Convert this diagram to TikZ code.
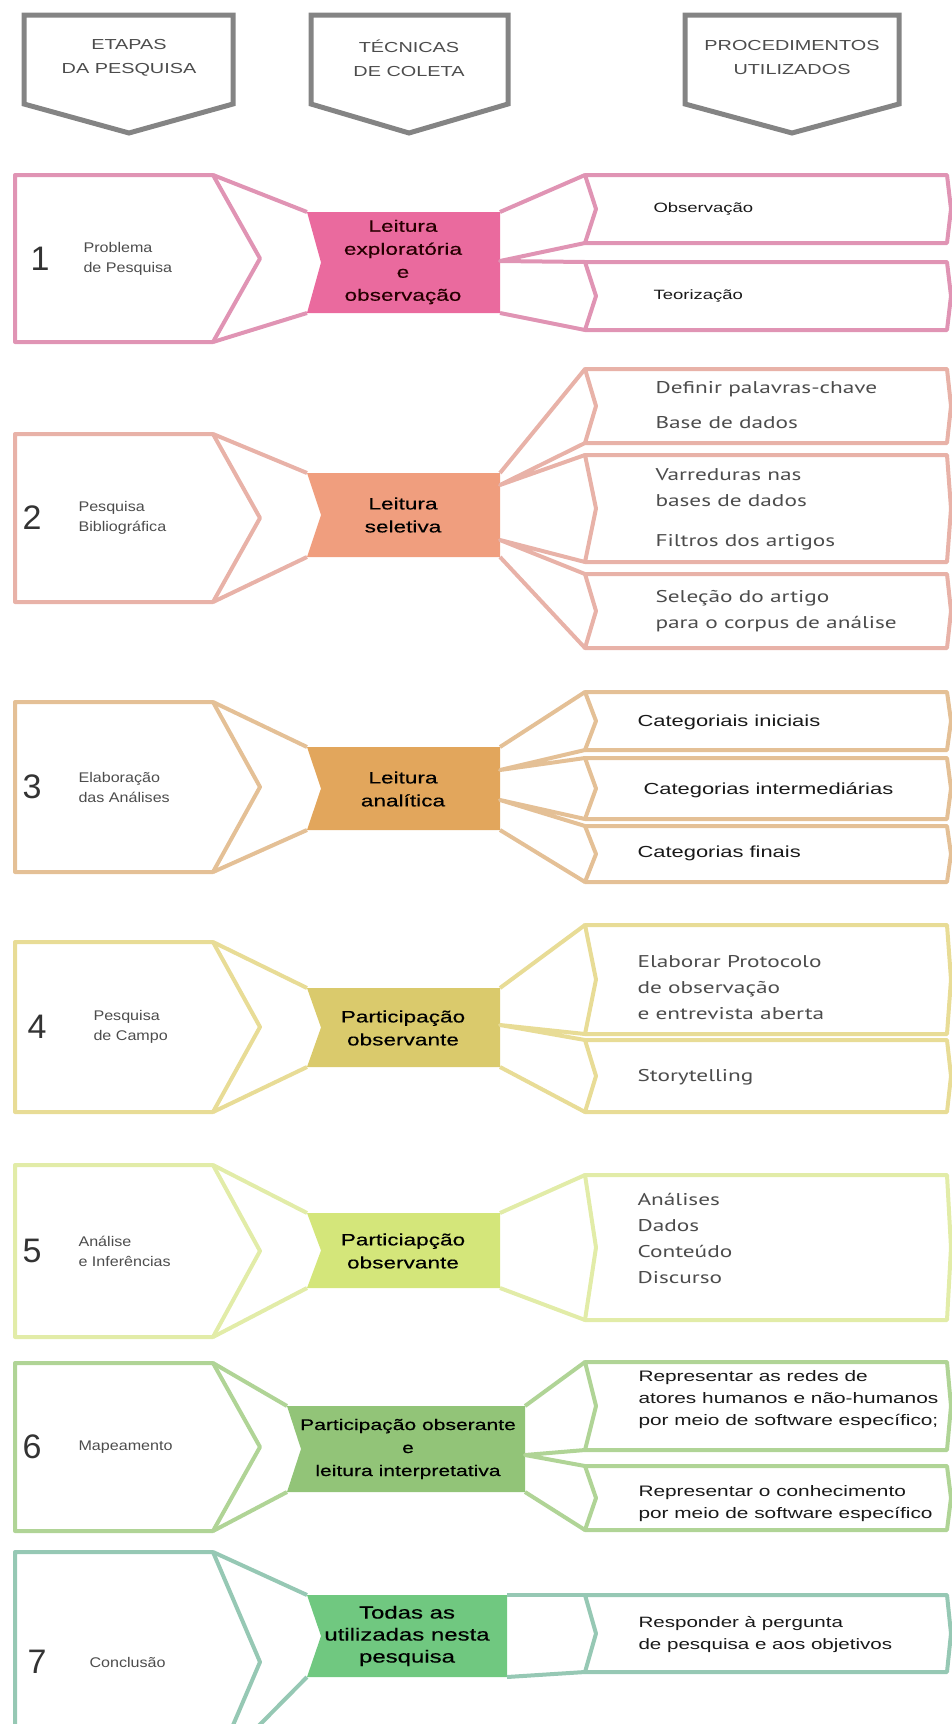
\documentclass[tikz,border=0pt]{standalone}
\usepackage{fontspec}
\newfontfamily\arialw{Liberation Sans}[FakeStretch=1.37]
\newfontfamily\arialm{Liberation Sans}[FakeStretch=1.15]
\newfontfamily\arialb{Liberation Sans}[FakeStretch=1.37, FakeBold=0.4]
\newfontfamily\myriadw{PT Sans}[FakeStretch=1.37]
\newfontfamily\arialn{Liberation Sans}
\usepackage{tikz}
\usetikzlibrary{calc}

\definecolor{cinzaLinha}{RGB}{132,132,132}
\definecolor{rosaLinha}{RGB}{224,148,180}
\definecolor{rosaFundo}{RGB}{234,106,158}
\definecolor{salmaoLinha}{RGB}{232,178,168}
\definecolor{salmaoFundo}{RGB}{240,158,126}
\definecolor{ocreLinha}{RGB}{228,192,150}
\definecolor{ocreFundo}{RGB}{226,166,92}
\definecolor{mostardaLinha}{RGB}{232,220,150}
\definecolor{mostardaFundo}{RGB}{218,202,108}
\definecolor{limaLinha}{RGB}{226,236,168}
\definecolor{limaFundo}{RGB}{212,230,122}
\definecolor{verdeLinha}{RGB}{176,212,150}
\definecolor{verdeFundo}{RGB}{146,196,120}
\definecolor{tealLinha}{RGB}{150,200,180}
\definecolor{tealFundo}{RGB}{112,200,128}

% etapa: name, colour, top, bottom
\newcommand{\etapabox}[4]{%
  \coordinate (#1-nw) at (15,#3);
  \coordinate (#1-ne) at (213,#3);
  \coordinate (#1-tip) at (260,{(#3+#4)/2});
  \coordinate (#1-se) at (213,#4);
  \coordinate (#1-sw) at (15,#4);
  \draw[outline=#2] (#1-nw) -- (#1-ne) -- (#1-tip) -- (#1-se) -- (#1-sw) -- cycle;}
% tecnica: name, colour, left, right, top, bottom
\newcommand{\tecnicabox}[6]{%
  \coordinate (#1-nw) at (#3,#5);
  \coordinate (#1-ne) at (#4,#5);
  \coordinate (#1-se) at (#4,#6);
  \coordinate (#1-sw) at (#3,#6);
  \fill[#2] (#1-nw) -- (#1-ne) -- (#1-se) -- (#1-sw) -- (#3+14,{(#5+#6)/2}) -- cycle;}
% procedimento: name, colour, top, bottom
\newcommand{\procbox}[4]{%
  \coordinate (#1-nw) at (585,#3);
  \coordinate (#1-sw) at (585,#4);
  \draw[outline=#2] (#1-nw) -- (947,#3) -- (951,{(#3+#4)/2}) -- (947,#4)
    -- (#1-sw) -- (596,{(#3+#4)/2}) -- cycle;}

\begin{document}
\begin{tikzpicture}[x=1pt, y=-1pt,
    outline/.style={draw=#1, line width=4pt, line join=round},
    cabecalho/.style={font=\arialw\fontsize{14.5}{24}\selectfont, align=center, text=black!70},
    numero/.style={font=\arialn\fontsize{34}{34}\selectfont, text=black!80},
    etapa/.style={anchor=west, font=\arialm\fontsize{14}{20}\selectfont, align=left, text=black!70},
    tecnica/.style={font=\arialb\fontsize{16.5}{23}\selectfont, align=center, text=black},
    procA/.style={anchor=west, font=\arialw\fontsize{13.5}{22}\selectfont, align=left, text=black!90},
    procM/.style={anchor=west, font=\myriadw\fontsize{17}{26}\selectfont, align=left, text=black!70}
  ]
  \useasboundingbox (0,0) rectangle (952,1724);
  \clip (0,0) rectangle (952,1724);

  % cabecalhos
  \draw[outline=cinzaLinha, line width=5pt, line join=miter]
    (24,15) -- (233,15) -- (233,104) -- (129,133) -- (24,104) -- cycle;
  \draw[outline=cinzaLinha, line width=5pt, line join=miter]
    (311,15) -- (508,15) -- (508,104) -- (409,133) -- (311,104) -- cycle;
  \draw[outline=cinzaLinha, line width=5pt, line join=miter]
    (685,15) -- (899,15) -- (899,104) -- (792,133) -- (685,104) -- cycle;
  \node[cabecalho] (h1) at (129,58) {ETAPAS\\DA PESQUISA};
  \node[cabecalho] (h2) at (409,58) {TÉCNICAS\\DE COLETA};
  \node[cabecalho] (h3) at (792,58) {PROCEDIMENTOS\\UTILIZADOS};

  % 1
  \etapabox{e1}{rosaLinha}{175}{342}
  \tecnicabox{t1}{rosaFundo}{307}{500}{212}{313}
  \procbox{p1a}{rosaLinha}{175}{243}
  \procbox{p1b}{rosaLinha}{262}{330}
  \coordinate (t1-m) at (500,261);
  \draw[outline=rosaLinha] (e1-ne) -- (t1-nw);
  \draw[outline=rosaLinha] (e1-se) -- (t1-sw);
  \draw[outline=rosaLinha] (t1-ne) -- (p1a-nw);
  \draw[outline=rosaLinha] (p1a-sw) -- (t1-m) -- (p1b-nw);
  \draw[outline=rosaLinha] (t1-se) -- (p1b-sw);
  \node[numero] (n1) at (40,259) {1};
  \node[etapa] (l1) at (80,259) {Problema\\de Pesquisa};
  \node[tecnica, text=black!85!red] (x1) at (403,262) {Leitura\\exploratória\\e\\observação};
  \node[procA] (q1a) at (650,209) {Observação};
  \node[procA] (q1b) at (650,296) {Teorização};

  % 2
  \etapabox{e2}{salmaoLinha}{434}{602}
  \tecnicabox{t2}{salmaoFundo}{307}{500}{473}{557}
  \procbox{p2a}{salmaoLinha}{369}{443}
  \procbox{p2b}{salmaoLinha}{455}{562}
  \procbox{p2c}{salmaoLinha}{574}{648}
  \coordinate (t2-m1) at (500,485);
  \coordinate (t2-m2) at (500,540);
  \draw[outline=salmaoLinha] (e2-ne) -- (t2-nw);
  \draw[outline=salmaoLinha] (e2-se) -- (t2-sw);
  \draw[outline=salmaoLinha] (t2-ne) -- (p2a-nw);
  \draw[outline=salmaoLinha] (p2a-sw) -- (t2-m1) -- (p2b-nw);
  \draw[outline=salmaoLinha] (p2b-sw) -- (t2-m2) -- (p2c-nw);
  \draw[outline=salmaoLinha] (t2-se) -- (p2c-sw);
  \node[numero] (n2) at (32,518) {2};
  \node[etapa] (l2) at (75,518) {Pesquisa\\Bibliográfica};
  \node[tecnica] (x2) at (403,515) {Leitura\\seletiva};
  \node[procM] (q2a) at (652,405) {Definir palavras-chave\\[9pt]Base de dados};
  \node[procM] (q2b) at (652,509) {Varreduras nas\\bases de dados\\[14pt]Filtros dos artigos};
  \node[procM] (q2c) at (652,611) {Seleção do artigo\\para o corpus de análise};

  % 3
  \etapabox{e3}{ocreLinha}{702}{872}
  \tecnicabox{t3}{ocreFundo}{307}{500}{747}{830}
  \procbox{p3a}{ocreLinha}{692}{750}
  \procbox{p3b}{ocreLinha}{758}{819}
  \procbox{p3c}{ocreLinha}{826}{882}
  \coordinate (t3-m1) at (500,770);
  \coordinate (t3-m2) at (500,800);
  \draw[outline=ocreLinha] (e3-ne) -- (t3-nw);
  \draw[outline=ocreLinha] (e3-se) -- (t3-sw);
  \draw[outline=ocreLinha] (t3-ne) -- (p3a-nw);
  \draw[outline=ocreLinha] (p3a-sw) -- (t3-m1) -- (p3b-nw);
  \draw[outline=ocreLinha] (p3b-sw) -- (t3-m2) -- (p3c-nw);
  \draw[outline=ocreLinha] (t3-se) -- (p3c-sw);
  \node[numero] (n3) at (32,787) {3};
  \node[etapa] (l3) at (75,787) {Elaboração\\das Análises};
  \node[tecnica] (x3) at (403,789) {Leitura\\analítica};
  \node[procA, font=\arialw\fontsize{16}{22}\selectfont] (q3a) at (634,722) {Categoriais iniciais};
  \node[procA, font=\arialw\fontsize{16}{22}\selectfont] (q3b) at (640,790) {Categorias intermediárias};
  \node[procA, font=\arialw\fontsize{16}{22}\selectfont] (q3c) at (634,853) {Categorias finais};

  % 4
  \etapabox{e4}{mostardaLinha}{942}{1112}
  \tecnicabox{t4}{mostardaFundo}{307}{500}{988}{1067}
  \procbox{p4a}{mostardaLinha}{925}{1034}
  \procbox{p4b}{mostardaLinha}{1040}{1112}
  \coordinate (t4-m) at (500,1025);
  \draw[outline=mostardaLinha] (e4-ne) -- (t4-nw);
  \draw[outline=mostardaLinha] (e4-se) -- (t4-sw);
  \draw[outline=mostardaLinha] (t4-ne) -- (p4a-nw);
  \draw[outline=mostardaLinha] (p4a-sw) -- (t4-m) -- (p4b-nw);
  \draw[outline=mostardaLinha] (t4-se) -- (p4b-sw);
  \node[numero] (n4) at (37,1027) {4};
  \node[etapa] (l4) at (90,1027) {Pesquisa\\de Campo};
  \node[tecnica] (x4) at (403,1028) {Participação\\observante};
  \node[procM] (q4a) at (634,988) {Elaborar Protocolo\\de observação\\e entrevista aberta};
  \node[procM] (q4b) at (634,1077) {Storytelling};

  % 5
  \etapabox{e5}{limaLinha}{1165}{1337}
  \tecnicabox{t5}{limaFundo}{307}{500}{1213}{1288}
  \procbox{p5a}{limaLinha}{1175}{1320}
  \draw[outline=limaLinha] (e5-ne) -- (t5-nw);
  \draw[outline=limaLinha] (e5-se) -- (t5-sw);
  \draw[outline=limaLinha] (t5-ne) -- (p5a-nw);
  \draw[outline=limaLinha] (t5-se) -- (p5a-sw);
  \node[numero] (n5) at (32,1251) {5};
  \node[etapa] (l5) at (75,1251) {Análise\\e Inferências};
  \node[tecnica] (x5) at (403,1251) {Particiapção\\observante};
  \node[procM] (q5a) at (634,1238) {Análises\\Dados\\Conteúdo\\Discurso};

  % 6
  \etapabox{e6}{verdeLinha}{1363}{1531}
  \tecnicabox{t6}{verdeFundo}{287}{525}{1406}{1492}
  \procbox{p6a}{verdeLinha}{1362}{1450}
  \procbox{p6b}{verdeLinha}{1466}{1530}
  \coordinate (t6-m) at (525,1455);
  \draw[outline=verdeLinha] (e6-ne) -- (t6-nw);
  \draw[outline=verdeLinha] (e6-se) -- (t6-sw);
  \draw[outline=verdeLinha] (t6-ne) -- (p6a-nw);
  \draw[outline=verdeLinha] (p6a-sw) -- (t6-m) -- (p6b-nw);
  \draw[outline=verdeLinha] (t6-se) -- (p6b-sw);
  \node[numero] (n6) at (32,1447) {6};
  \node[etapa] (l6) at (75,1447) {Mapeamento};
  \node[tecnica, font=\arialb\fontsize{15.4}{23}\selectfont] (x6) at (408,1449)
    {Participação obserante\\e\\leitura interpretativa};
  \node[procA, font=\arialw\fontsize{15.2}{22}\selectfont] (q6a) at (635,1400)
    {Representar as redes de\\atores humanos e não-humanos\\por meio de software específico;};
  \node[procA, font=\arialw\fontsize{15.2}{22}\selectfont] (q6b) at (635,1504)
    {Representar o conhecimento\\por meio de software específico};

  % 7
  \etapabox{e7}{tealLinha}{1552}{1772}
  \tecnicabox{t7}{tealFundo}{307}{507}{1595}{1677}
  \procbox{p7a}{tealLinha}{1595}{1672}
  \draw[outline=tealLinha] (e7-ne) -- (t7-nw);
  \draw[outline=tealLinha] (e7-se) -- (t7-sw);
  \draw[outline=tealLinha] (t7-ne) -- (p7a-nw);
  \draw[outline=tealLinha] (t7-se) -- (p7a-sw);
  \node[numero] (n7) at (37,1662) {7};
  \node[etapa] (l7) at (86,1662) {Conclusão};
  \node[tecnica, font=\arialb\fontsize{17.5}{22}\selectfont] (x7) at (407,1636)
    {Todas as\\utilizadas nesta\\pesquisa};
  \node[procA, font=\arialw\fontsize{15}{22}\selectfont] (q7a) at (635,1635)
    {Responder à pergunta\\de pesquisa e aos objetivos};
\end{tikzpicture}
\end{document}
